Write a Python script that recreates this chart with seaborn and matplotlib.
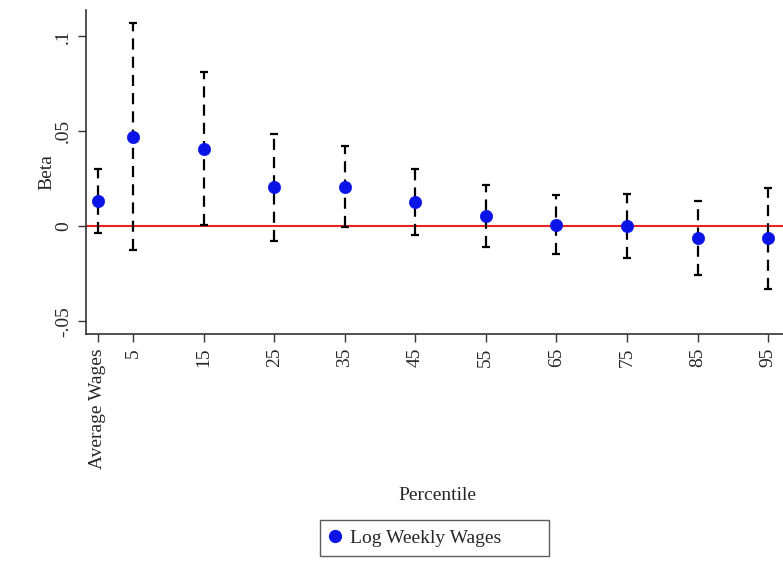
import matplotlib
matplotlib.use("Agg")
import matplotlib.pyplot as plt
import seaborn as sns
import pandas as pd
from matplotlib.lines import Line2D

# Quantile regression coefficients by percentile
positions = [0, 5, 15, 25, 35, 45, 55, 65, 75, 85, 95]
tick_labels = ["Average Wages", "5", "15", "25", "35", "45", "55", "65", "75", "85", "95"]
beta = [0.0132, 0.0472, 0.0407, 0.0206, 0.0208, 0.0129, 0.0057, 0.0009, 0.0004, -0.0063, -0.0063]
ci_upper = [0.0300, 0.1070, 0.0813, 0.0488, 0.0422, 0.0303, 0.0220, 0.0167, 0.0171, 0.0132, 0.0203]
ci_lower = [-0.0035, -0.0127, 0.0009, -0.0075, -0.0002, -0.0044, -0.0106, -0.0144, -0.0164, -0.0255, -0.0331]
y_ticks = [-0.05, 0, 0.05, 0.1]
y_tick_labels = ["-.05", "0", ".05", ".1"]

df = pd.DataFrame({"pos": positions, "beta": beta, "hi": ci_upper, "lo": ci_lower})

sns.set_style("ticks")
plt.rcParams["font.family"] = ["Liberation Serif", "DejaVu Serif"]
plt.rcParams["font.size"] = 14

fig = plt.figure(figsize=(7.83, 5.75), dpi=100)
ax = fig.add_axes([0.1098, 0.419, 0.8902, 0.5636])

# Zero reference line
ax.axhline(0, color="#e8231f", lw=1.5, zorder=1)

# Confidence intervals: dashed whiskers with caps
eb = ax.errorbar(df["pos"], df["beta"],
                 yerr=[df["beta"] - df["lo"], df["hi"] - df["beta"]],
                 fmt="none", ecolor="black", elinewidth=1.6, capsize=3,
                 capthick=1.6, zorder=2)
for coll in eb[2]:
    coll.set_linestyle((0, (5, 3.2)))

# Point estimates
sns.scatterplot(data=df, x="pos", y="beta", ax=ax, color="#0a14e6", s=78,
                edgecolor="#0a14e6", linewidth=0.5, zorder=3, legend=False)

ax.set_xlim(-1.66, 97.1)
ax.set_ylim(-0.0567, 0.1139)
ax.set_xticks(positions)
ax.set_xticklabels(tick_labels, rotation=90)
ax.set_yticks(y_ticks)
ax.set_yticklabels(y_tick_labels, rotation=90, va="center")
ax.tick_params(axis="both", direction="out", length=6, width=1, color="#333333",
               labelsize=14, pad=4)

for side in ["top", "right"]:
    ax.spines[side].set_visible(False)
for side in ["left", "bottom"]:
    ax.spines[side].set_color("#333333")
    ax.spines[side].set_linewidth(1.2)

ax.set_xlabel("")
ax.set_ylabel("Beta", fontsize=14, labelpad=0)
fig.text(0.558, 0.139, "Percentile", ha="center", va="center", fontsize=14)

handle = Line2D([], [], marker="o", linestyle="none", color="#0a14e6",
                markersize=8.5)
leg = fig.legend([handle], ["Log Weekly Wages"], loc="center left",
                 bbox_to_anchor=(0.4087, 0.0643, 0.2925, 0.0), mode="expand",
                 frameon=True, fancybox=False, edgecolor="#333333", fontsize=14,
                 handletextpad=0.5, borderpad=0.45, handlelength=0.6,
                 borderaxespad=0)
leg.get_frame().set_linewidth(1.0)

fig.savefig("out.png", dpi=100)
